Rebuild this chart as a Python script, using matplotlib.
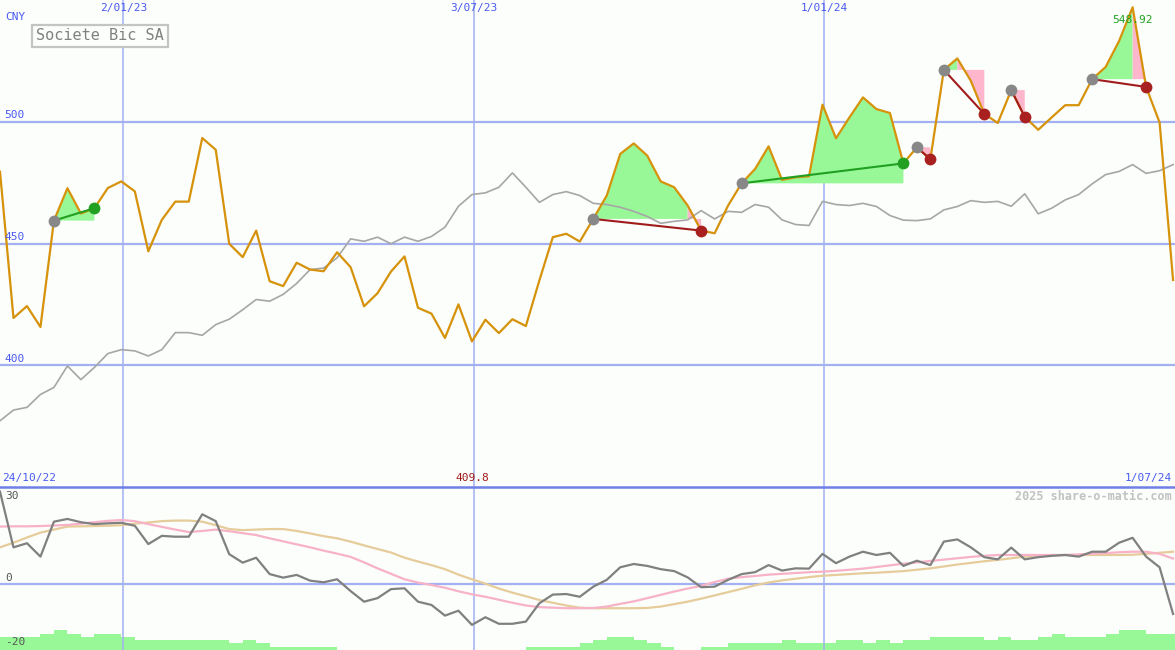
import numpy as np
import pandas as pd
import matplotlib
matplotlib.use('Agg')
import matplotlib.pyplot as plt
import matplotlib.dates as mdates
import matplotlib.transforms as mtrans
from matplotlib.lines import Line2D

# ---------------- data ----------------
dates = pd.date_range('2022-10-30', periods=88, freq='7D')

price = [479.5, 419.4, 424.3, 415.7, 459.4, 472.7, 462.3, 464.5, 472.8, 475.5,
         471.4, 446.8, 459.7, 467.2, 467.2, 493.3, 488.5, 449.9, 444.4, 455.3,
         434.5, 432.5, 442.1, 439.3, 438.6, 446.4, 440.3, 424.2, 429.6, 438.5,
         444.7, 423.6, 421.2, 411.2, 425.0, 409.8, 418.7, 413.2, 418.9, 416.1,
         434.8, 452.6, 454.0, 450.8, 460.1, 469.7, 486.8, 491.1, 486.1, 475.5,
         473.1, 465.6, 455.3, 454.2, 465.6, 474.7, 480.6, 489.9, 476.1, 477.2,
         477.6, 507.0, 493.2, 501.8, 510.0, 505.2, 503.6, 482.9, 489.5, 484.6,
         521.3, 526.0, 516.8, 503.2, 499.5, 513.0, 502.0, 496.7, 501.8, 506.8,
         506.8, 517.5, 522.5, 533.2, 547.0, 514.3, 499.7, 435.0]

index_line = [377.2, 381.6, 382.7, 388.0, 390.9, 399.7, 394.1, 399.1, 404.8, 406.4,
              405.9, 403.8, 406.4, 413.4, 413.4, 412.3, 416.7, 418.9, 422.8, 427.0,
              426.3, 429.1, 433.6, 439.3, 439.9, 444.1, 451.9, 450.9, 452.6, 449.9,
              452.6, 450.9, 452.9, 456.7, 465.3, 470.1, 470.8, 473.1, 479.0, 473.1,
              466.9, 470.1, 471.3, 469.7, 466.5, 466.0, 464.9, 463.2, 461.1, 458.3,
              459.1, 459.7, 463.5, 460.1, 463.2, 462.8, 466.0, 464.9, 459.7, 457.8,
              457.4, 467.3, 466.0, 465.6, 466.5, 465.2, 461.5, 459.6, 459.4, 460.1,
              463.8, 465.2, 467.6, 466.9, 467.3, 465.3, 470.4, 462.2, 464.5, 467.9,
              470.1, 474.5, 478.3, 479.6, 482.4, 478.8, 479.9, 482.4]

osc = [33.7, 13.3, 14.8, 9.9, 22.7, 23.7, 22.5, 21.8, 22.1, 22.3,
       21.2, 14.5, 17.5, 17.2, 17.2, 25.4, 22.9, 10.8, 7.7, 9.5,
       3.5, 2.2, 3.2, 1.1, 0.5, 1.6, -2.7, -6.6, -5.3, -2.0,
       -1.7, -6.6, -7.8, -11.7, -9.9, -15.1, -12.3, -14.7, -14.7, -13.9,
       -7.2, -4.0, -3.8, -4.8, -1.1, 1.4, 6.0, 7.2, 6.5, 5.3,
       4.6, 2.3, -1.3, -1.1, 1.4, 3.5, 4.2, 6.8, 4.8, 5.6,
       5.5, 10.9, 7.5, 9.9, 11.7, 10.5, 11.3, 6.5, 8.4, 6.8,
       15.4, 16.2, 13.3, 9.7, 8.9, 13.2, 8.9, 9.7, 10.2, 10.5,
       9.9, 11.7, 11.7, 15.0, 16.8, 9.9, 6.0, -11.1]

osc_fast = [20.9, 21.0, 21.0, 21.1, 21.3, 21.5, 22.0, 22.5, 23.0, 23.3,
            22.9, 21.8, 20.8, 19.8, 18.9, 19.3, 19.8, 19.2, 18.5, 17.8,
            16.6, 15.5, 14.4, 13.3, 12.1, 11.0, 9.8, 7.8, 5.6, 3.6,
            1.6, 0.4, -0.5, -1.5, -2.8, -3.9, -4.8, -5.9, -7.0, -8.0,
            -8.6, -8.8, -9.0, -9.0, -8.9, -8.4, -7.4, -6.5, -5.3, -4.1,
            -2.9, -1.8, -0.8, 0.6, 1.8, 2.4, 2.8, 3.3, 3.6, 3.9,
            4.2, 4.4, 4.7, 5.1, 5.5, 6.1, 6.7, 7.3, 7.8, 8.3,
            8.8, 9.3, 9.8, 10.2, 10.5, 10.5, 10.5, 10.5, 10.5, 10.5,
            10.7, 11.0, 11.2, 11.5, 11.7, 11.7, 10.9, 9.2]

osc_slow = [13.3, 15.0, 16.9, 18.7, 19.8, 20.9, 21.0, 21.1, 21.2, 21.4,
            22.0, 22.4, 22.9, 23.1, 23.1, 22.7, 21.4, 20.0, 19.6, 19.8,
            20.0, 20.0, 19.3, 18.4, 17.4, 16.6, 15.4, 14.0, 12.7, 11.4,
            9.5, 8.1, 6.8, 5.3, 3.3, 1.6, 0.0, -1.8, -3.3, -4.6,
            -6.0, -7.0, -8.0, -8.8, -9.0, -9.0, -9.0, -9.0, -8.9, -8.4,
            -7.5, -6.6, -5.5, -4.3, -3.1, -1.9, -0.6, 0.4, 1.2, 1.8,
            2.4, 2.9, 3.2, 3.5, 3.8, 4.0, 4.3, 4.6, 5.1, 5.6,
            6.3, 7.0, 7.6, 8.2, 8.7, 9.3, 9.9, 10.2, 10.4, 10.5,
            10.5, 10.5, 10.5, 10.5, 10.6, 10.9, 11.3, 11.7]

volume_level = [4, 4, 4, 5, 6, 5, 4, 5, 5, 4,
                3, 3, 3, 3, 3, 3, 3, 2, 3, 2,
                1, 1, 1, 1, 1, 0, 0, 0, 0, 0,
                0, 0, 0, 0, 0, 0, 0, 0, 0, 1,
                1, 1, 1, 2, 3, 4, 4, 3, 2, 1,
                0, 0, 1, 1, 2, 2, 2, 2, 3, 2,
                2, 2, 3, 3, 2, 3, 2, 3, 3, 4,
                4, 4, 4, 3, 4, 3, 3, 4, 5, 4,
                4, 4, 5, 6, 6, 5, 5, 5]

signal_start = [4, 44, 55, 68, 70, 75, 81]
signal_end = [7, 52, 67, 69, 73, 76, 85]

price_grid = [400, 450, 500]
price_grid_labels = ['400', '450', '500']
osc_labels = ['30', '0', '-20']
date_grid = ['2023-01-02', '2023-07-03', '2024-01-01']
date_grid_labels = ['2/01/23', '3/07/23', '1/01/24']
title = 'Societe Bic SA'
currency = 'CNY'
start_label = '24/10/22'
end_label = '1/07/24'
max_label = '548.92'
min_label = '409.8'
credit = '2025 share-o-matic.com'

# ---------------- styling ----------------
W, H = 1175, 650
BG = '#fbfefb'
ORANGE = '#d6920a'
GRID = '#a3b0f2'
SEP = '#6f7fe6'
LBL = '#4a5af0'
MONO = ['DejaVu Sans Mono']
FS = 8

fig = plt.figure(figsize=(W / 100, H / 100), dpi=100, facecolor=BG)
lower_h = 163 / H
ax = fig.add_axes([0, lower_h, 1, 1 - lower_h])
ax3 = fig.add_axes([0, 0, 1, lower_h])
ax2 = fig.add_axes([0, 0, 1, lower_h])
for a in (ax, ax2, ax3):
    a.set_axis_off()
    a.patch.set_visible(False)

x = mdates.date2num(dates)
xmin = mdates.date2num(pd.Timestamp('2022-10-30'))
xmax = mdates.date2num(pd.Timestamp('2024-07-01'))
for a in (ax, ax2, ax3):
    a.set_xlim(xmin, xmax)
ax.set_ylim(350, 550)
ax2.set_ylim(-24.3, 35.4)
ax3.set_ylim(0, 50)

price = np.array(price)

# grid lines
for g in price_grid:
    ax.axhline(g, color=GRID, lw=1.6, zorder=1)
ax2.axhline(0, color=GRID, lw=1.6, zorder=1)
for d in date_grid:
    xd = mdates.date2num(pd.Timestamp(d))
    ax.axvline(xd, color=GRID, lw=1.1, zorder=1)
    ax2.axvline(xd, color=GRID, lw=1.1, zorder=1)

# signal fills
for s, e in zip(signal_start, signal_end):
    base = price[s]
    k = s
    for j in range(s, e + 1):
        if price[j] >= base:
            k = j
    if k > s:
        gx = [x[s]] + list(x[s:k + 1]) + [x[k]]
        gy = [base] + list(price[s:k + 1]) + [base]
        ax.fill(gx, gy, color='#98f898', lw=0, zorder=2)
    if k < e:
        px = [x[k]] + list(x[k:e + 1]) + [x[e]]
        py = [base] + list(price[k:e + 1]) + [base]
        ax.fill(px, py, color='#fdb6cc', lw=0, zorder=2)

# index line and price line
ax.plot(x, index_line, color='#a6a6a6', lw=1.2, zorder=3)
ax.plot(x, price, color=ORANGE, lw=1.6, zorder=4)

# signal markers
for s, e in zip(signal_start, signal_end):
    win = price[e] > price[s]
    lc = '#22a022' if win else '#a01c1c'
    mc = '#22a022' if win else '#a82020'
    ax.plot([x[s], x[e]], [price[s], price[e]], color=lc, lw=1.5, zorder=5)
    ax.plot([x[s]], [price[s]], 'o', color='#888888', ms=8.5, mew=0, zorder=6)
    ax.plot([x[e]], [price[e]], 'o', color=mc, ms=8.5, mew=0, zorder=6)

# lower panel
ax3.bar(x, volume_level, width=7, align='edge', color='#98f898', lw=0, zorder=1)
ax2.plot(x, osc_slow, color='#e6cc9a', lw=1.6, zorder=3)
ax2.plot(x, osc_fast, color='#f8b2c8', lw=1.6, zorder=3)
ax2.plot(x, osc, color='#808080', lw=1.6, zorder=4)

# separator
fig.add_artist(Line2D([0, 1], [lower_h, lower_h], color=SEP, lw=1.8,
                      transform=fig.transFigure))

# ---------------- texts ----------------
def ftext(px, py, s, **kw):
    fig.text(px / W, 1 - py / H, s, family=MONO, **kw)

ftext(5, 17, currency, fontsize=FS, color=LBL, va='center', ha='left')
bt = mtrans.blended_transform_factory(ax.transData, fig.transFigure)
for g, lab in zip(price_grid, price_grid_labels):
    ax.text(0.004, g + 0.6, lab,
            transform=mtrans.blended_transform_factory(ax.transAxes, ax.transData),
            fontsize=FS, color=LBL, va='bottom', ha='left', family=MONO, zorder=7)
for d, lab in zip(date_grid, date_grid_labels):
    xd = mdates.date2num(pd.Timestamp(d))
    ax.text(xd, 1 - 8 / H, lab, transform=bt, fontsize=FS, color=LBL,
            ha='center', va='center', family=MONO)

ftext(100, 36, title, fontsize=11, color='#808080', ha='center', va='center',
      bbox=dict(boxstyle='square,pad=0.25', fc=BG, ec='#c4c4c4', lw=1.6))

imax = int(np.argmax(price))
ax.text(x[imax], 1 - 20 / H, max_label, transform=bt, fontsize=FS,
        color='#22a022', ha='center', va='center', family=MONO, zorder=7)
imin = int(np.argmin(price))
ax.text(x[imin], 1 - 478 / H, min_label, transform=bt, fontsize=FS,
        color='#a01818', ha='center', va='center', family=MONO, zorder=7)

ftext(2, 478, start_label, fontsize=FS, color=LBL, ha='left', va='center')
ftext(1172, 478, end_label, fontsize=FS, color=LBL, ha='right', va='center')
ftext(1172, 496, credit, fontsize=8.5, color='#c2c2c2', ha='right', va='center',
      weight='bold')

for lab, ypx in zip(osc_labels, [496, 578, 642]):
    ftext(5, ypx, lab, fontsize=FS, color='#555555', ha='left', va='center')

fig.savefig('out.png', dpi=100, facecolor=BG)
